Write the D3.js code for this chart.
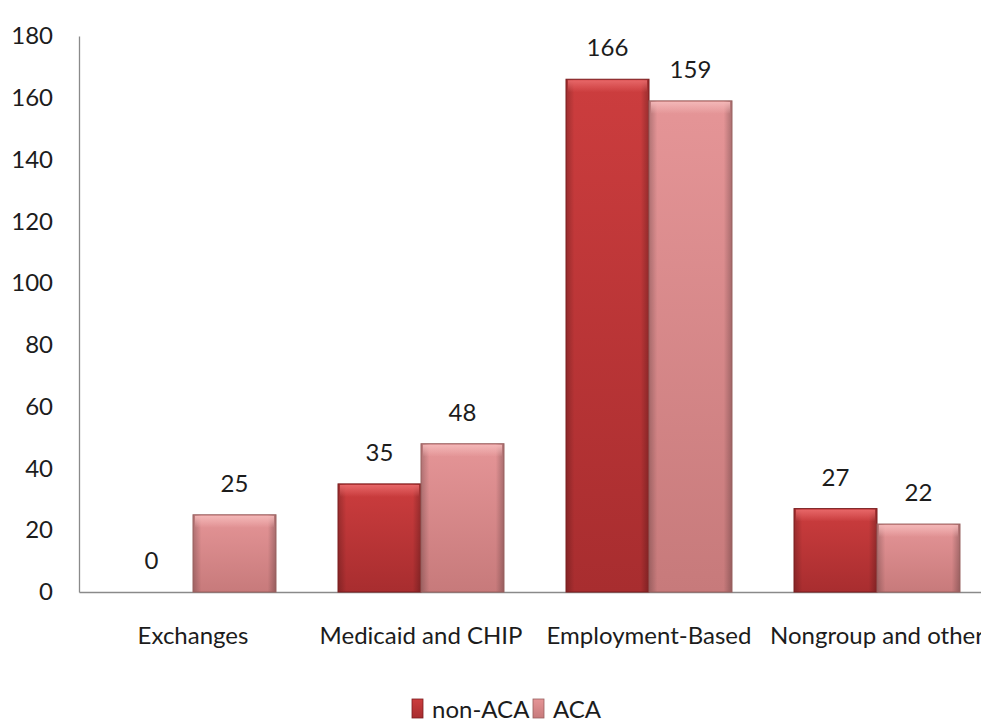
<!DOCTYPE html>
<html>
<head>
<meta charset="utf-8">
<script src="https://cdn.jsdelivr.net/npm/d3@7/dist/d3.min.js"></script>
<style>
  html, body { margin: 0; padding: 0; background: #fff; }
  svg { display: block; }
  text { font-family: Lato, "Open Sans", sans-serif; fill: #1c1c1c; }
</style>
</head>
<body>
<svg id="chart" width="981" height="723"></svg>
<script>
const categories = ["Exchanges", "Medicaid and CHIP", "Employment-Based", "Nongroup and other"];
const seriesNames = ["non-ACA", "ACA"];
const nonACA = [0, 35, 166, 27];
const aca = [25, 48, 159, 22];
const yTicks = [0, 20, 40, 60, 80, 100, 120, 140, 160, 180];

const svg = d3.select("#chart");
const plotLeft = 79, plotBottom = 592, plotTop = 36;
const FS = 24;

const x0 = d3.scaleBand().domain(categories).range([plotLeft, plotLeft + 4 * 228]).paddingInner(0.272).paddingOuter(0.136);
const x1 = d3.scaleBand().domain(seriesNames).range([0, x0.bandwidth()]);
const y = d3.scaleLinear().domain([0, 180]).range([plotBottom, plotTop]);

const colors = {
  "non-ACA": { top: "#cc3d3e", bottom: "#a82d2f", hi: "#e8696a", stroke: "#7a1d1e" },
  "ACA": { top: "#e59597", bottom: "#c77a7b", hi: "#f4b9b9", stroke: "#98605f" }
};

const defs = svg.append("defs");
seriesNames.forEach((s, i) => {
  const c = colors[s];
  const v = defs.append("linearGradient").attr("id", "fill" + i).attr("x1", "0").attr("x2", "0").attr("y1", "0").attr("y2", "1");
  v.append("stop").attr("offset", "0").attr("stop-color", c.top);
  v.append("stop").attr("offset", "1").attr("stop-color", c.bottom);
  const h = defs.append("linearGradient").attr("id", "hl" + i).attr("x1", "0").attr("x2", "0").attr("y1", "0").attr("y2", "1");
  h.append("stop").attr("offset", "0").attr("stop-color", c.hi).attr("stop-opacity", 0.95);
  h.append("stop").attr("offset", "1").attr("stop-color", c.hi).attr("stop-opacity", 0);
});
// darker side edges shared by all bars
const side = defs.append("linearGradient").attr("id", "side").attr("x1", "0").attr("x2", "1").attr("y1", "0").attr("y2", "0");
side.append("stop").attr("offset", "0").attr("stop-color", "#000").attr("stop-opacity", 0.22);
side.append("stop").attr("offset", "0.1").attr("stop-color", "#000").attr("stop-opacity", 0);
side.append("stop").attr("offset", "0.9").attr("stop-color", "#000").attr("stop-opacity", 0);
side.append("stop").attr("offset", "1").attr("stop-color", "#000").attr("stop-opacity", 0.25);

// y axis
const yAxis = d3.axisLeft(y).tickValues(yTicks).tickSize(0).tickPadding(26);
const yg = svg.append("g").attr("transform", `translate(${plotLeft},0)`).call(yAxis);
yg.select(".domain").attr("stroke", "#8a8a8a").attr("stroke-width", 1.3);
yg.selectAll("text").style("font-size", FS + "px").style("font-family", "Lato, sans-serif").attr("fill", "#1c1c1c");

// x axis
const xAxis = d3.axisBottom(x0).tickSize(0).tickPadding(35);
const xg = svg.append("g").attr("transform", `translate(0,${plotBottom})`).call(xAxis);
xg.select(".domain").attr("stroke", "#8a8a8a").attr("stroke-width", 1.3);
xg.selectAll("text").style("font-size", FS + "px").style("font-family", "Lato, sans-serif").attr("fill", "#1c1c1c");

const rows = categories.map((c, i) => ({ cat: c, vals: [nonACA[i], aca[i]] }));

const groups = svg.append("g").selectAll("g").data(rows).join("g")
  .attr("transform", d => `translate(${x0(d.cat)},0)`);

groups.each(function(d) {
  const g = d3.select(this);
  d.vals.forEach((v, i) => {
    const s = seriesNames[i];
    const bx = x1(s), bw = x1.bandwidth();
    const by = y(v), bh = plotBottom - y(v);
    if (bh > 0) {
      g.append("rect").attr("x", bx).attr("y", by).attr("width", bw).attr("height", bh)
        .attr("fill", `url(#fill${i})`);
      g.append("rect").attr("x", bx).attr("y", by).attr("width", bw).attr("height", bh)
        .attr("fill", "url(#side)");
      g.append("rect").attr("x", bx + 2).attr("y", by + 1).attr("width", bw - 4).attr("height", Math.min(12, bh - 2))
        .attr("fill", `url(#hl${i})`);
      g.append("rect").attr("x", bx).attr("y", by).attr("width", bw).attr("height", bh)
        .attr("fill", "none").attr("stroke", colors[s].stroke).attr("stroke-width", 1);
    }
    g.append("text").attr("x", bx + bw / 2).attr("y", by - 23)
      .attr("text-anchor", "middle").style("font-size", FS + "px").text(v);
  });
});

// legend
const legend = svg.append("g").attr("transform", "translate(412,699)");
const legendItems = [{ name: "non-ACA", x: 0 }, { name: "ACA", x: 121 }];
legendItems.forEach((it, i) => {
  legend.append("rect").attr("x", it.x).attr("y", 0).attr("width", 11).attr("height", 19)
    .attr("fill", `url(#fill${i})`).attr("stroke", colors[it.name].stroke).attr("stroke-width", 0.8);
  legend.append("text").attr("x", it.x + 20).attr("y", 19).style("font-size", FS + "px").text(it.name);
});
</script>
</body>
</html>
